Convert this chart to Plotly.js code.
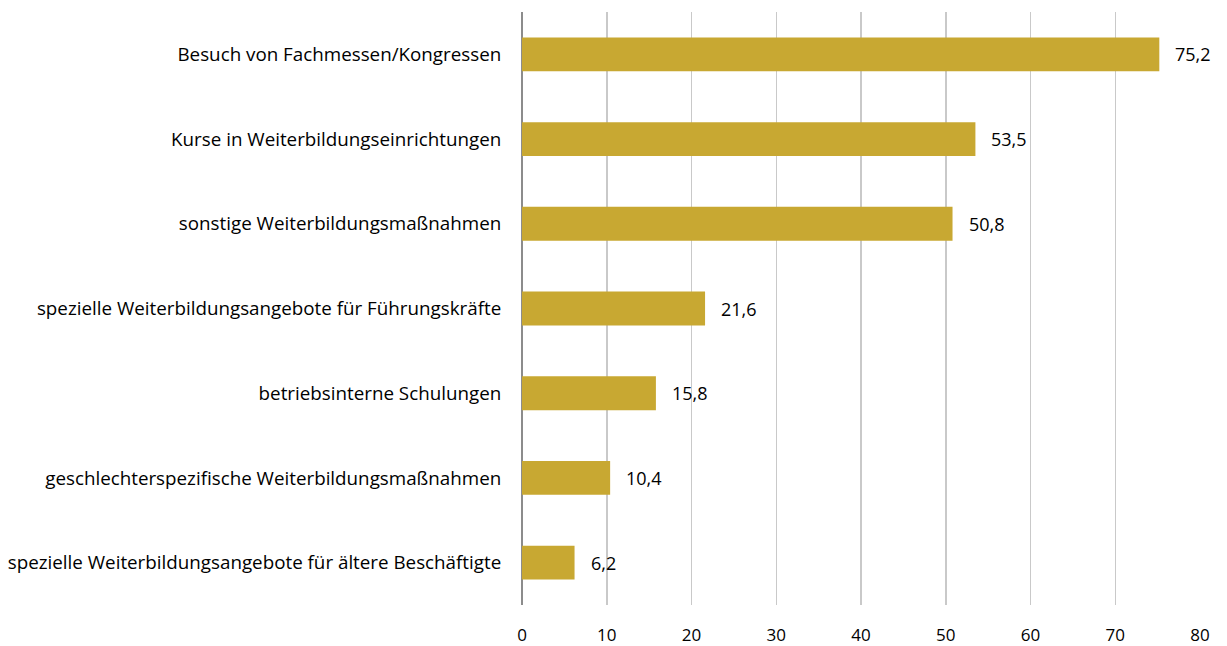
<!DOCTYPE html>
<html><head><meta charset="utf-8">
<script src="https://cdn.plot.ly/plotly-3.0.1.min.js"></script>
<style>html,body{margin:0;padding:0;background:#fff}#chart{width:1227px;height:646px}</style>
</head><body><div id="chart"></div>
<script>
const categories = [
  "Besuch von Fachmessen/Kongressen",
  "Kurse in Weiterbildungseinrichtungen",
  "sonstige Weiterbildungsmaßnahmen",
  "spezielle Weiterbildungsangebote für Führungskräfte",
  "betriebsinterne Schulungen",
  "geschlechterspezifische Weiterbildungsmaßnahmen",
  "spezielle Weiterbildungsangebote für ältere Beschäftigte"
];
const values = [75.2, 53.5, 50.8, 21.6, 15.8, 10.4, 6.2];
const xTicks = [0, 10, 20, 30, 40, 50, 60, 70, 80];

const catFont = {family: "'Open Sans', sans-serif", size: 18.8, color: "#000"};
const numFont = {family: "'Open Sans', sans-serif", size: 17, color: "#000"};
const valFont = {family: "'Open Sans', sans-serif", size: 18, color: "#000"};

const annotations = values.map((v, i) => ({
  x: v, y: categories[i], xref: "x", yref: "y",
  text: v.toFixed(1).replace(".", ","), showarrow: false,
  xanchor: "left", xshift: 14, font: valFont
}));

Plotly.newPlot("chart", [{
  type: "bar", orientation: "h",
  x: values, y: categories,
  width: 0.4,
  marker: {color: "#C8A832"},
  hoverinfo: "none"
}], {
  width: 1227, height: 646,
  margin: {l: 522, r: 27, t: 12, b: 41},
  paper_bgcolor: "#fff", plot_bgcolor: "#fff",
  separators: ",.",
  font: numFont,
  showlegend: false,
  xaxis: {
    range: [0, 80], tickvals: xTicks, ticktext: xTicks.map(String),
    showgrid: true, gridcolor: "#c9c9c9", gridwidth: 1.5,
    zeroline: true, zerolinecolor: "#8c8c8c", zerolinewidth: 2,
    showline: false, ticks: "outside", ticklen: 15, tickcolor: "rgba(0,0,0,0)",
    tickfont: numFont, fixedrange: true
  },
  yaxis: {
    type: "category", autorange: "reversed",
    showgrid: false, zeroline: false, showline: false,
    ticks: "outside", ticklen: 16, tickcolor: "rgba(0,0,0,0)",
    tickfont: catFont, fixedrange: true
  },
  annotations: annotations
}, {displayModeBar: false, staticPlot: true});
</script></body></html>
